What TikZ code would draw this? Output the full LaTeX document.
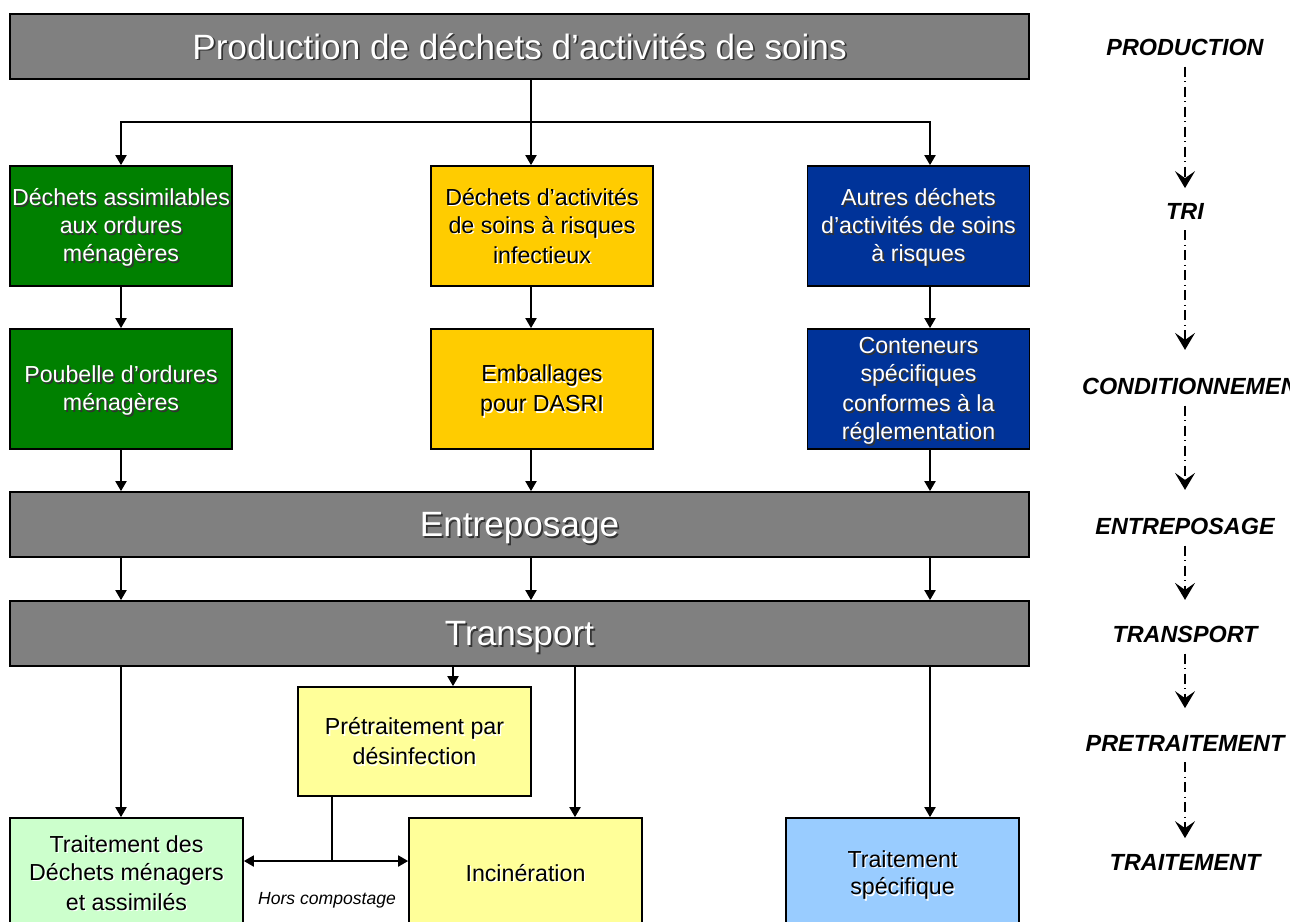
\documentclass[tikz,border=0pt]{standalone}
\usepackage{fontspec}
\setmainfont{Liberation Sans}
\usetikzlibrary{arrows.meta, positioning, calc}
\definecolor{StageGray}{HTML}{808080}
\definecolor{DamGreen}{HTML}{008000}
\definecolor{DasriYellow}{HTML}{FFCC00}
\definecolor{OtherBlue}{HTML}{003399}
\definecolor{PaleGreen}{HTML}{CCFFCC}
\definecolor{PaleYellow}{HTML}{FFFF99}
\definecolor{PaleBlue}{HTML}{99CCFF}
\definecolor{ShadeDark}{HTML}{333333}
% text line with a small drop shadow (and a fixed strut)
\newcommand{\linestrut}{\rule[-0.235em]{0pt}{1.182em}}
\newcommand{\shdark}[1]{\makebox[0pt][l]{\kern1pt\raisebox{-1pt}{\color{ShadeDark}#1}}\linestrut#1}
\newcommand{\shlight}[1]{\makebox[0pt][l]{\kern0.8pt\raisebox{-0.8pt}{\color{white}#1}}\linestrut#1}

\begin{document}
\begin{tikzpicture}[
    x=0.02cm, y=-0.02cm,
    stage/.style={rectangle, draw, line width=1pt, fill=StageGray, text=white,
                  minimum width=20.38cm, minimum height=1.3cm, inner sep=0pt,
                  font=\fontsize{20}{24}\selectfont},
    waste/.style={rectangle, draw, line width=1pt, minimum width=4.44cm,
                  minimum height=2.4cm, align=center, inner sep=0pt,
                  font=\fontsize{13.2}{15.8}\selectfont},
    treat/.style={waste, minimum width=4.66cm, minimum height=2.2cm},
    phase/.style={inner sep=0pt, font=\fontsize{13.3}{16}\selectfont\bfseries\itshape},
    link/.style={line width=1.1pt},
    flow/.style={link, -{Triangle[length=0.2cm, width=0.22cm]}},
    phaseflow/.style={line width=0.8pt, dash pattern=on 0.2cm off 0.09cm on 0.02cm off 0.09cm,
                      -{Stealth[length=0.34cm, width=0.4cm, inset=0.14cm]},
                      shorten <=0.22cm}
]
    \useasboundingbox (0,0) rectangle (1290,921);

    % columns of the flow
    \coordinate (cA) at (121,0);
    \coordinate (cB) at (531,0);
    \coordinate (cC) at (930,0);
    \coordinate (cP) at (453,0);
    \coordinate (cI) at (575,0);

    % stages
    \node[stage] (prod) at (519.5,46.5) {\shdark{Production de déchets d’activités de soins}};
    \node[stage] (entr) at (519.5,524.5) {\shdark{Entreposage}};
    \node[stage] (transp) at (519.5,633.5) {\shdark{Transport}};

    % tri
    \node[waste, fill=DamGreen, text=white] (dam) at (121,226)
        {\shdark{Déchets assimilables}\\\shdark{aux ordures}\\\shdark{ménagères}};
    \node[waste, fill=DasriYellow] (dasri) at (542,226)
        {\shlight{Déchets d’activités}\\\shlight{de soins à risques}\\\shlight{infectieux}};
    \node[waste, fill=OtherBlue, text=white] (autres) at (918.5,226)
        {\shdark{Autres déchets}\\\shdark{d’activités de soins}\\\shdark{à risques}};

    % conditionnement
    \node[waste, fill=DamGreen, text=white, below=0.825cm of dam] (poub)
        {\shdark{Poubelle d’ordures}\\\shdark{ménagères}};
    \node[waste, fill=DasriYellow, below=0.825cm of dasri] (emb)
        {\shlight{Emballages}\\\shlight{pour DASRI}};
    \node[waste, fill=OtherBlue, text=white, below=0.825cm of autres] (cont)
        {\shdark{Conteneurs}\\\shdark{spécifiques}\\\shdark{conformes à la}\\\shdark{réglementation}};

    % pretraitement et traitement
    \node[treat, fill=PaleYellow, minimum height=2.18cm] (pret) at (414.5,741.5)
        {\shlight{Prétraitement par}\\\shlight{désinfection}};
    \node[treat, fill=PaleGreen] (tdm) at (126.5,873)
        {\shlight{Traitement des}\\\shlight{Déchets ménagers}\\\shlight{et assimilés}};
    \node[treat, fill=PaleYellow] (inci) at (525.5,873) {\shlight{Incinération}};
    \node[treat, fill=PaleBlue] (tspec) at (902.5,873)
        {\shlight{Traitement}\\\shlight{spécifique}};

    % connectors
    \coordinate (fork) at (531,122);
    \draw[link] (prod.south -| fork) -- (fork);
    \draw[flow] (fork) -| (dam.north);
    \draw[flow] (fork) -- (dasri.north -| fork);
    \draw[flow] (fork) -| (autres.north -| cC);

    \foreach \up/\down/\col in {dam/poub/cA, dasri/emb/cB, autres/cont/cC,
                               poub/entr/cA, emb/entr/cB, cont/entr/cC,
                               entr/transp/cA, entr/transp/cB, entr/transp/cC,
                               transp/tdm/cA, transp/pret/cP, transp/inci/cI, transp/tspec/cC}
        \draw[flow] (\up.south -| \col) -- (\down.north -| \col);

    \coordinate (split) at (332,861);
    \draw[link] (pret.south -| split) -- (split);
    \draw[flow] (split) -- (tdm.east |- split);
    \draw[flow] (split) -- (inci.west |- split);
    \node[font=\fontsize{10}{12}\selectfont\itshape] (hors) at (327,900) {Hors compostage};

    % phases
    \node[phase] (pProd) at (1185,47) {PRODUCTION};
    \node[phase] (pTri) at (1185,211) {TRI};
    \node[phase] (pCond) at (1197,386) {CONDITIONNEMENT};
    \node[phase] (pEntr) at (1185,526) {ENTREPOSAGE};
    \node[phase] (pTrans) at (1185,634) {TRANSPORT};
    \node[phase] (pPret) at (1185,743) {PRETRAITEMENT};
    \node[phase] (pTrait) at (1185,862) {TRAITEMENT};

    \foreach \a/\b/\gap in {pProd/pTri/0.29cm, pTri/pCond/0.55cm, pCond/pEntr/0.55cm,
                            pEntr/pTrans/0.51cm, pTrans/pPret/0.53cm, pPret/pTrait/0.31cm}
        \draw[phaseflow, shorten >=\gap] (\a.south -| pProd) -- (\b.north -| pProd);
\end{tikzpicture}
\end{document}
